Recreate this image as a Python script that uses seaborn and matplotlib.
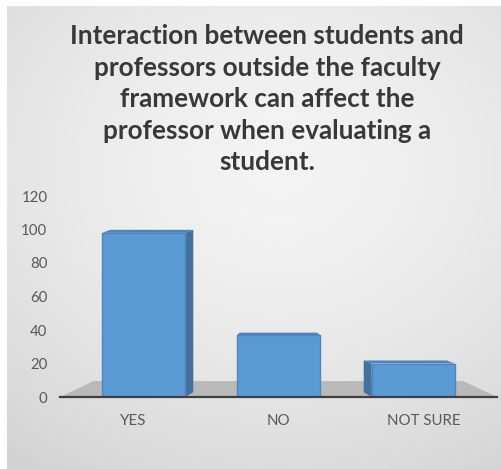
import numpy as np
import pandas as pd
import matplotlib
matplotlib.use("Agg")
import matplotlib.pyplot as plt
from matplotlib.patches import Polygon, Rectangle
import seaborn as sns

# Survey answers and counts
categories = ["YES", "NO", "NOT SURE"]
counts = [98, 37, 20]
y_ticks = [0, 20, 40, 60, 80, 100, 120]
title = ("Interaction between students and\nprofessors outside the faculty\n"
         "framework can affect the\nprofessor when evaluating a\nstudent.")

sns.set_theme(style="white")
plt.rcParams["font.family"] = ["Lato", "DejaVu Sans"]

W, H, DPI = 501, 469, 100
fig = plt.figure(figsize=(W / DPI, H / DPI), dpi=DPI)
fig.patch.set_facecolor("white")

# Grey panel with a soft radial shading
bg = fig.add_axes([7 / W, 0, 1 - 7 / W, 1 - 6 / H], zorder=0)
gy, gx = np.mgrid[0:1:200j, 0:1:200j]
r = np.sqrt(((gx - 0.55) / 0.9) ** 2 + ((gy - 0.35) / 0.8) ** 2)
shade = np.clip(0.955 - 0.13 * r ** 1.6, 0.80, 0.96)
bg.imshow(np.dstack([shade] * 3), aspect="auto", extent=[0, 1, 1, 0])
bg.set_axis_off()

df = pd.DataFrame({"answer": categories, "count": counts})

left, right = 60 / W, 497 / W
bottom, top = 1 - 397 / H, 1 - 196 / H
ax = fig.add_axes([left, bottom, right - left, top - bottom], zorder=1)
ax.set_facecolor("none")

face = "#5b9bd5"
side = "#41719c"
topc = "#4a84bd"
sns.barplot(data=df, x="answer", y="count", color=face, width=0.57,
            saturation=1, edgecolor="#4f86c0", linewidth=1.0, ax=ax, zorder=3)

ax.set_xlim(-0.5, 2.5)
ax.set_ylim(0, 120)

bars = [p for p in ax.patches if isinstance(p, Rectangle)]

# Floor beneath the columns
floor_h = 9.5
ax.add_patch(Polygon([(-0.5, 0), (2.5, 0), (2.27, floor_h), (-0.27, floor_h)],
                     closed=True, facecolor="#b9b9b9", edgecolor="none", zorder=1))

# Perspective: outer columns lean toward the centre, with a visible side face
dx, dy = 0.055, 1.8
shift = 0.075
for i, patch in enumerate(bars):
    patch.set_x(patch.get_x() - shift * (i - 1))
    x0 = patch.get_x()
    w = patch.get_width()
    h = patch.get_height()
    x1 = x0 + w
    s = 1 - i
    if s == 1:
        ax.add_patch(Polygon([(x1, 0), (x1 + dx, floor_h * 0.3), (x1 + dx, h + dy), (x1, h)],
                             closed=True, facecolor=side, edgecolor="none", zorder=2.9))
        ax.add_patch(Polygon([(x0, h), (x1, h), (x1 + dx, h + dy), (x0 + dx, h + dy)],
                             closed=True, facecolor=topc, edgecolor="none", zorder=3.1))
    elif s == -1:
        ax.add_patch(Polygon([(x0, 0), (x0 - dx, floor_h * 0.3), (x0 - dx, h + dy), (x0, h)],
                             closed=True, facecolor=side, edgecolor="none", zorder=2.9))
        ax.add_patch(Polygon([(x0, h), (x1, h), (x1 - dx, h + dy), (x0 - dx, h + dy)],
                             closed=True, facecolor=topc, edgecolor="none", zorder=3.1))
    else:
        ax.add_patch(Polygon([(x0, h), (x1, h), (x1 - 0.02, h + dy * 0.8), (x0 + 0.02, h + dy * 0.8)],
                             closed=True, facecolor=topc, edgecolor="none", zorder=3.1))

ax.set_yticks(y_ticks)
ax.set_xlabel("")
ax.set_ylabel("")
for sp in ["top", "right", "left"]:
    ax.spines[sp].set_visible(False)
ax.spines["bottom"].set_color("#3f3f3f")
ax.spines["bottom"].set_linewidth(1.6)
ax.spines["bottom"].set_zorder(5)
ax.tick_params(axis="y", length=0, pad=9, labelsize=10.8, labelcolor="#595959")
ax.tick_params(axis="x", length=0, pad=12, labelsize=10.8, labelcolor="#595959")
ax.grid(False)

fig.text(267 / W, 1 - 24 / H, title, ha="center", va="top", fontsize=18.8,
         fontweight="bold", color="#383838", linespacing=1.38)

fig.savefig("out.png", dpi=DPI)
